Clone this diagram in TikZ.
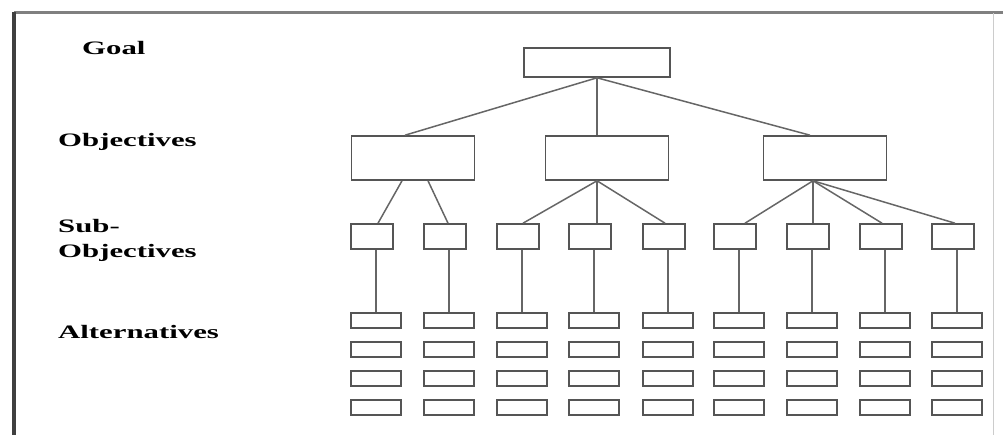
\documentclass[tikz,border=0pt]{standalone}
\usepackage{fontspec}
\setmainfont{Liberation Serif}
\usetikzlibrary{calc}
\definecolor{boxc}{HTML}{555555}
\definecolor{linec}{HTML}{666666}
\tikzset{
  box/.style={draw=boxc,line width=1.6pt,inner sep=0pt,fill=white},
  goalbox/.style={box,minimum width=146,minimum height=29},
  objbox/.style={box,minimum width=123,minimum height=44},
  subbox/.style={box,minimum width=42,minimum height=25},
  altbox/.style={box,minimum width=50,minimum height=15},
  conn/.style={draw=linec,line width=1.5pt},
  lbl/.style={anchor=base west,inner sep=0pt,font=\fontsize{19}{21}\selectfont\bfseries}
}
\newcommand{\stx}[1]{\scalebox{1.62}[1]{#1}}
\begin{document}
\begin{tikzpicture}[x=1pt,y=-1pt]
\useasboundingbox (0,0) rectangle (1003,435);
% frame
\draw[line width=3pt,color=black!50] (14,13) -- (1003,13);
\draw[line width=1pt,color=black!20] (993,13) -- (993,435);
\draw[line width=4pt,color=black!75] (14,12) -- (14,435);
% labels
\node[lbl] (lgoal) at (82,55) {\stx{Goal}};
\node[lbl] (lobj) at (58,147) {\stx{Objectives}};
\node[lbl] (lsub) at (58,233) {\stx{Sub-}};
\node[lbl] (lsub2) at (58,258) {\stx{Objectives}};
\node[lbl] (lalt) at (58,338) {\stx{Alternatives}};
% goal and objectives
\node[goalbox] (goal) at (597,62.5) {};
\node[objbox] (obj1) at (413,158) {};
\node[objbox] (obj2) at (607,158) {};
\node[objbox] (obj3) at (825,158) {};
% sub objectives and alternatives
\foreach \i/\l in {1/351,2/424,3/497,4/569,5/643,6/714,7/787,8/860,9/932}{
  \node[subbox] (sub\i) at (\l+21,236.5) {};
  \foreach \r/\y in {1/320.5,2/349.5,3/378.5,4/407.5}{
    \node[altbox] (alt\i-\r) at (\l+25,\y) {};
  }
  \draw[conn] (alt\i-1.north) -- (alt\i-1.north |- sub\i.south);
}
% goal to objectives
\coordinate (gb) at (goal.south);
\draw[conn] (gb) -- ($(obj1.north)+(-8,0)$);
\draw[conn] (gb) -- (gb |- obj2.north);
\draw[conn] (gb) -- ($(obj3.north)+(-15,0)$);
% objective 1
\draw[conn] ($(obj1.south)+(-11,0)$) -- ($(sub1.north)+(6,0)$);
\draw[conn] ($(obj1.south)+(15,0)$) -- ($(sub2.north)+(3,0)$);
% objective 2
\coordinate (o2b) at (gb |- obj2.south);
\draw[conn] (o2b) -- ($(sub3.north)+(5,0)$);
\draw[conn] (o2b) -- (o2b |- sub4.north);
\draw[conn] (o2b) -- ($(sub5.north)+(1,0)$);
% objective 3
\coordinate (o3b) at ($(obj3.south)+(-12,0)$);
\draw[conn] (o3b) -- ($(sub6.north)+(10,0)$);
\draw[conn] (o3b) -- ($(sub7.north)+(5,0)$);
\draw[conn] (o3b) -- ($(sub8.north)+(1,0)$);
\draw[conn] (o3b) -- ($(sub9.north)+(2,0)$);
\end{tikzpicture}
\end{document}
